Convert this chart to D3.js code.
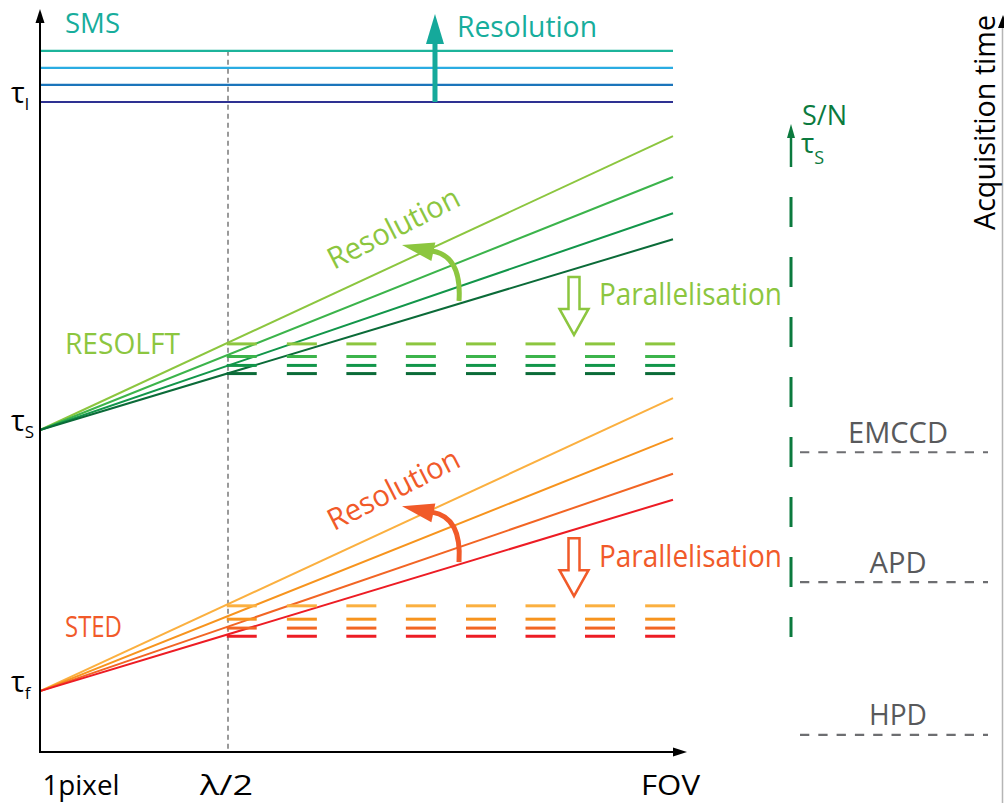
<!DOCTYPE html>
<html>
<head>
<meta charset="utf-8">
<script src="https://cdn.jsdelivr.net/npm/d3@7"></script>
<style>
  body { margin: 0; background: #fff; }
  svg { display: block; font-family: 'Open Sans', sans-serif; }
</style>
</head>
<body>
<svg id="chart" width="1004" height="803"></svg>
<script>
// values, acquisition time in arbitrary units (0..100)
const tauNames = ['l', 'S', 'f'];
const tauValues = [87.6, 43.4, 8.2];

const smsValues = [94.5, 92.2, 89.9, 87.6];
const smsColors = ['#1cb49b', '#2aace2', '#1b75bb', '#2e3192'];

const resolftEnd = [83.0, 77.5, 72.6, 69.1];
const resolftDash = [55.0, 53.3, 52.1, 51.0];
const resolftColors = ['#8cc63f', '#3cb44b', '#12964a', '#0b6b38'];

const stedEnd = [47.7, 42.3, 37.5, 34.0];
const stedDash = [19.7, 17.9, 16.7, 15.6];
const stedColors = ['#fbb040', '#f7941e', '#f26524', '#ed1c24'];

// parallel acquisition: start of each short dash along the FOV axis
const dashStarts = [0.295, 0.390, 0.484, 0.578, 0.673, 0.767, 0.861, 0.956];

const xTickLabels = ['1pixel', 'λ/2', 'FOV'];
const xTickValues = [0, 0.297, 1];

const detectors = ['EMCCD', 'APD', 'HPD'];
const detectorValues = [40.4, 22.9, 2.3];

const svg = d3.select('#chart');
const x = d3.scaleLinear().domain([0, 1]).range([40, 673]);
const y = d3.scaleLinear().domain([0, 100]).range([752, 10]);

const dashLen = 30; // px
const font = 'Open Sans, sans-serif';

function triangle(g, tipX, tipY, dx, dy, len, half, color) {
  const bx = tipX - dx * len;
  const by = tipY - dy * len;
  const px = -dy * half;
  const py = dx * half;
  g.append('path')
    .attr('d', `M${tipX},${tipY}L${bx + px},${by + py}L${bx - px},${by - py}Z`)
    .attr('fill', color);
}

function label(g, txt, px, py, size, color, width, anchor) {
  return g.append('text')
    .attr('x', px)
    .attr('y', py)
    .attr('font-size', size)
    .attr('fill', color)
    .attr('text-anchor', anchor || 'start')
    .attr('textLength', width)
    .attr('lengthAdjust', 'spacingAndGlyphs')
    .text(txt);
}

// lambda/2 guide
svg.append('line')
  .attr('x1', x(xTickValues[1])).attr('x2', x(xTickValues[1]))
  .attr('y1', y(smsValues[0])).attr('y2', y(0))
  .attr('stroke', '#9a9a9a')
  .attr('stroke-width', 2)
  .attr('stroke-dasharray', '5,4');

// SMS: flat lines
const sms = svg.append('g').attr('class', 'sms');
sms.selectAll('line')
  .data(smsValues)
  .enter()
  .append('line')
  .attr('x1', x(0)).attr('x2', x(1))
  .attr('y1', d => y(d)).attr('y2', d => y(d))
  .attr('stroke', (d, i) => smsColors[i])
  .attr('stroke-width', 2.2);

label(sms, 'SMS', 65, 33, 28, '#17ad9c', 55);
label(sms, 'Resolution', 457, 37, 30, '#17ad9c', 140);
const smsArrowX = x(0.624);
sms.append('line')
  .attr('x1', smsArrowX).attr('x2', smsArrowX)
  .attr('y1', y(smsValues[3])).attr('y2', 42)
  .attr('stroke', '#15a99b')
  .attr('stroke-width', 5);
triangle(sms, smsArrowX, 14, 0, -1, 30, 9, '#15a99b');

function drawTechnique(tau, ends, dashes, colors, opts) {
  const g = svg.append('g').attr('class', 'technique');

  g.selectAll('line.ramp')
    .data(ends)
    .enter()
    .append('line')
    .attr('class', 'ramp')
    .attr('x1', x(0)).attr('y1', y(tau))
    .attr('x2', x(1)).attr('y2', d => y(d))
    .attr('stroke', (d, i) => colors[i])
    .attr('stroke-width', 2);

  dashes.forEach((level, i) => {
    g.selectAll(null)
      .data(dashStarts)
      .enter()
      .append('line')
      .attr('x1', d => x(d)).attr('x2', d => x(d) + dashLen)
      .attr('y1', y(level)).attr('y2', y(level))
      .attr('stroke', colors[i])
      .attr('stroke-width', 3);
  });

  label(g, opts.name, 65, y(tau) - opts.nameOffset, 30, opts.color, opts.nameWidth);

  // annotations sit at fixed offsets from the starting point of the block
  const a = g.append('g').attr('transform', `translate(${x(0)},${y(tau)})`);
  label(a, 'Resolution', 0, 0, 30, opts.color, 144)
    .attr('transform', 'translate(294,-160) rotate(-27)');
  a.append('path')
    .attr('d', 'M419,-129Q422,-174 392,-179')
    .attr('fill', 'none')
    .attr('stroke', opts.color)
    .attr('stroke-width', 5);
  triangle(a, 362, -185, -0.98, -0.21, 32, 9.5, opts.color);

  label(a, 'Parallelisation', 559, opts.paraY, 31, opts.color, 183);
  const cx = 534;
  a.append('path')
    .attr('d', `M${cx - 5.5},-153H${cx + 5.5}V-121H${cx + 14.5}L${cx},-95L${cx - 14.5},-121H${cx - 5.5}Z`)
    .attr('fill', '#fff')
    .attr('stroke', opts.color)
    .attr('stroke-width', 2.5)
    .attr('stroke-linejoin', 'miter');
}

drawTechnique(tauValues[1], resolftEnd, resolftDash, resolftColors,
  { name: 'RESOLFT', nameOffset: 76, nameWidth: 115, color: '#8cc63f', paraY: -125 });
drawTechnique(tauValues[2], stedEnd, stedDash, stedColors,
  { name: 'STED', nameOffset: 54, nameWidth: 57, color: '#f15a29', paraY: -124 });

// axes
const axes = svg.append('g').attr('class', 'axes');
axes.append('line')
  .attr('x1', x(0)).attr('x2', x(0))
  .attr('y1', y(0) + 1).attr('y2', 22)
  .attr('stroke', '#000').attr('stroke-width', 2);
triangle(axes, x(0), 9, 0, -1, 14, 4.5, '#000');
axes.append('line')
  .attr('x1', x(0) - 1).attr('x2', 674)
  .attr('y1', y(0)).attr('y2', y(0))
  .attr('stroke', '#000').attr('stroke-width', 2);
triangle(axes, 687, y(0), 1, 0, 14, 4.5, '#000');

const xAxis = d3.axisBottom(x)
  .tickValues(xTickValues)
  .tickFormat((d, i) => xTickLabels[i])
  .tickSize(0)
  .tickPadding(23);
const xg = svg.append('g')
  .attr('transform', `translate(0,${y(0)})`)
  .call(xAxis);
xg.select('.domain').remove();
xg.selectAll('text')
  .attr('font-size', 28)
  .attr('font-family', font)
  .attr('fill', '#000')
  .attr('text-anchor', (d, i) => (i === 0 ? 'start' : 'middle'))
  .attr('x', (d, i) => (i === 0 ? 2 : i === 2 ? -3 : -2))
  .attr('textLength', (d, i) => [77, 53, 59][i])
  .attr('lengthAdjust', 'spacingAndGlyphs');

// tau labels on the time axis
const taus = svg.append('g').attr('class', 'tau');
taus.selectAll('text')
  .data(tauValues)
  .enter()
  .append('text')
  .attr('x', 11)
  .attr('y', d => y(d) + 1)
  .attr('font-size', 29)
  .attr('fill', '#000')
  .each(function(d, i) {
    const t = d3.select(this);
    t.append('tspan').text('τ');
    t.append('tspan').attr('font-size', 17).attr('dy', 7).text(tauNames[i]);
  });

// S/N axis on the right
const sn = svg.append('g').attr('class', 'sn');
const snX = 791;
const snColor = '#0b7a3e';
sn.append('line')
  .attr('x1', snX).attr('x2', snX)
  .attr('y1', 197).attr('y2', 637)
  .attr('stroke', snColor)
  .attr('stroke-width', 3)
  .attr('stroke-dasharray', '30,30');
sn.append('line')
  .attr('x1', snX).attr('x2', snX)
  .attr('y1', 136).attr('y2', 167)
  .attr('stroke', snColor)
  .attr('stroke-width', 2.5);
triangle(sn, snX, 124, 0, -1, 14, 4, snColor);
label(sn, 'S/N', 802, 125, 28, snColor, 45);
const snTau = sn.append('text')
  .attr('x', 801).attr('y', 153)
  .attr('font-size', 28)
  .attr('fill', snColor);
snTau.append('tspan').text('τ');
snTau.append('tspan').attr('font-size', 18).attr('dy', 11).text('S');

// detectors
const det = svg.append('g').attr('class', 'detectors');
det.selectAll('line')
  .data(detectorValues)
  .enter()
  .append('line')
  .attr('x1', 800).attr('x2', 988)
  .attr('y1', d => y(d)).attr('y2', d => y(d))
  .attr('stroke', '#6d6e71')
  .attr('stroke-width', 2.2)
  .attr('stroke-dasharray', '9.3,9');
det.selectAll('text')
  .data(detectorValues)
  .enter()
  .append('text')
  .attr('x', 898)
  .attr('y', d => y(d) - 9.5)
  .attr('text-anchor', 'middle')
  .attr('font-size', 30)
  .attr('fill', '#58595b')
  .attr('textLength', (d, i) => [100, 57, 58][i])
  .attr('lengthAdjust', 'spacingAndGlyphs')
  .text((d, i) => detectors[i]);

// acquisition time axis, cut by the right edge
svg.append('line')
  .attr('x1', 1002.5).attr('x2', 1002.5)
  .attr('y1', 26).attr('y2', 803)
  .attr('stroke', '#b5b5b5')
  .attr('stroke-width', 1.5);
triangle(svg, 1003, 15, 0, -1, 13, 5, '#000');
label(svg, 'Acquisition time', 0, 0, 30, '#000', 215)
  .attr('transform', 'translate(995,230) rotate(-90)');
</script>
</body>
</html>
